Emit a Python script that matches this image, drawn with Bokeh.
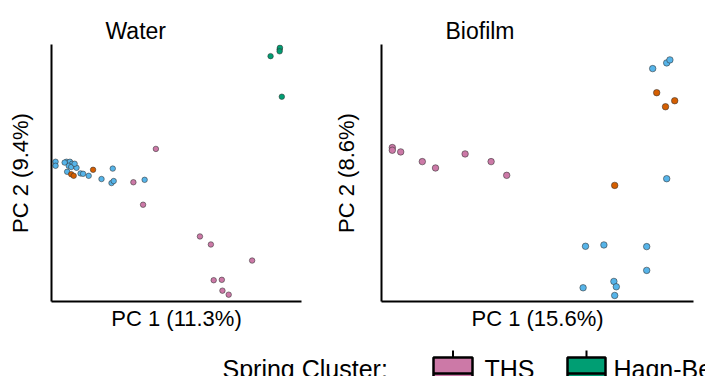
from bokeh.plotting import figure
from bokeh.layouts import column, row
from bokeh.models import Range1d, Title, FixedTicker, ColumnDataSource
from bokeh.core.properties import value
from bokeh.embed import file_html
from bokeh.resources import INLINE

FONT = "Liberation Sans"

# ---- data (PC scores) ----
cluster_colors = {"THS": "#CC79A7", "Haqn-Bear": "#009E73", "Blue": "#56B4E9", "Orange": "#D55E00"}

water_pc1 = [0.401, 0.430, 0.431, 0.430, 0.437,
             0.034, -0.038, -0.007, 0.175, 0.210, 0.342, 0.219, 0.245, 0.247, 0.267,
             -0.287, -0.287, -0.252, -0.241, -0.234, -0.245, -0.237, -0.220, -0.250, -0.207,
             -0.199, -0.181, -0.140, -0.104, -0.108, -0.101, -0.002, -0.226, -0.258,
             -0.167, -0.237, -0.229]
water_pc2 = [0.311, 0.328, 0.332, 0.323, 0.210,
             0.080, -0.003, -0.059, -0.138, -0.158, -0.198, -0.247, -0.246, -0.273, -0.283,
             0.048, 0.038, 0.048, 0.048, 0.043, 0.038, 0.035, 0.033, 0.023, 0.019,
             0.018, 0.013, 0.005, 0.031, -0.005, 0.000, 0.003, 0.043, 0.046,
             0.028, 0.017, 0.013]
water_cluster = (["Haqn-Bear"] * 5 + ["THS"] * 10 + ["Blue"] * 19 + ["Orange"] * 3)

biofilm_pc1 = [0.428, 0.463, 0.471, 0.463, 0.260, 0.306, 0.413, 0.413, 0.331, 0.337, 0.254, 0.333,
               0.438, 0.460, 0.483, 0.333,
               -0.223, -0.223, -0.202, -0.148, -0.115, -0.041, 0.024, 0.063]
biofilm_pc2 = [0.346, 0.363, 0.372, 0.017, -0.185, -0.181, -0.186, -0.257, -0.290, -0.306, -0.309, -0.332,
               0.274, 0.232, 0.250, -0.003,
               0.110, 0.102, 0.097, 0.068, 0.049, 0.091, 0.068, 0.027]
biofilm_cluster = (["Blue"] * 12 + ["Orange"] * 4 + ["THS"] * 8)

water_xlabel, water_ylabel = "PC 1 (11.3%)", "PC 2 (9.4%)"
biofilm_xlabel, biofilm_ylabel = "PC 1 (15.6%)", "PC 2 (8.6%)"

legend_title = "Spring Cluster:"
legend_labels = ["THS", "Haqn-Bear"]


def panel(title, title_offset, xs, ys, cl, xr, yr, xlabel, ylabel, width, bl, br, size, ystand):
    p = figure(width=width, height=340, output_backend="svg", toolbar_location=None,
               x_range=Range1d(*xr), y_range=Range1d(*yr),
               min_border_left=bl, min_border_right=br, min_border_top=44, min_border_bottom=39)
    p.title = Title(text=title, align="left", offset=title_offset, text_font=FONT,
                    text_font_size="23px", text_font_style="normal", text_color="black", standoff=2)
    p.outline_line_color = None
    p.grid.visible = False
    p.background_fill_color = "white"
    p.border_fill_color = "white"
    for ax, lab in ((p.xaxis[0], xlabel), (p.yaxis[0], ylabel)):
        ax.ticker = FixedTicker(ticks=[])
        ax.major_tick_line_color = None
        ax.minor_tick_line_color = None
        ax.major_label_text_font_size = "0px"
        ax.axis_line_width = 2
        ax.axis_line_color = "black"
        ax.axis_label = lab
        ax.axis_label_text_font = FONT
        ax.axis_label_text_font_size = "22px"
        ax.axis_label_text_font_style = "normal"
        ax.axis_label_text_color = "black"
    p.xaxis.axis_label_standoff = 4
    p.yaxis.axis_label_standoff = ystand
    src = ColumnDataSource(dict(x=xs, y=ys, c=[cluster_colors[k] for k in cl]))
    p.scatter("x", "y", source=src, size=size, fill_color="c", line_color="#333333",
              line_alpha=0.7, line_width=0.8)
    return p


p1 = panel("Water", 54, water_pc1, water_pc2, water_cluster, (-0.3, 0.5), (-0.3, 0.34),
           water_xlabel, water_ylabel, 330, 51, 29, 5.5, 19)
p2 = panel("Biofilm", 64, biofilm_pc1, biofilm_pc2, biofilm_cluster, (-0.25, 0.53), (-0.35, 0.418),
           biofilm_xlabel, biofilm_ylabel, 375, 51, 12, 6.5, 23)

# ---- legend strip (cut by the window edge as in the reference) ----
leg = figure(width=705, height=36, output_backend="svg", toolbar_location=None,
             x_range=Range1d(0, 705), y_range=Range1d(36, 0),
             min_border=0, min_border_left=0, min_border_right=0, min_border_top=0, min_border_bottom=0)
leg.axis.visible = False
leg.grid.visible = False
leg.outline_line_color = None
leg.text(x=[222], y=[14], text=[legend_title], text_font=value(FONT), text_font_size="25px",
         text_baseline="top", text_color="black")
key_left = [433, 567]
key_right = [472, 605]
text_x = [484, 613]
for l, r, tx, lab in zip(key_left, key_right, text_x, legend_labels):
    c = cluster_colors[lab]
    leg.quad(left=[l], right=[r], top=[17], bottom=[44], fill_color=c, line_color="black", line_width=2.5)
    leg.segment(x0=[l], x1=[r], y0=[33], y1=[33], line_color="black", line_width=2.5)
    m = (l + r) / 2
    leg.segment(x0=[m], x1=[m], y0=[10], y1=[17], line_color="black", line_width=2)
    leg.text(x=[tx], y=[14], text=[lab], text_font=value(FONT), text_font_size="25px",
             text_baseline="top", text_color="black")

layout = column(row(p1, p2), leg)
open("out.html", "w").write(file_html(layout, INLINE))
